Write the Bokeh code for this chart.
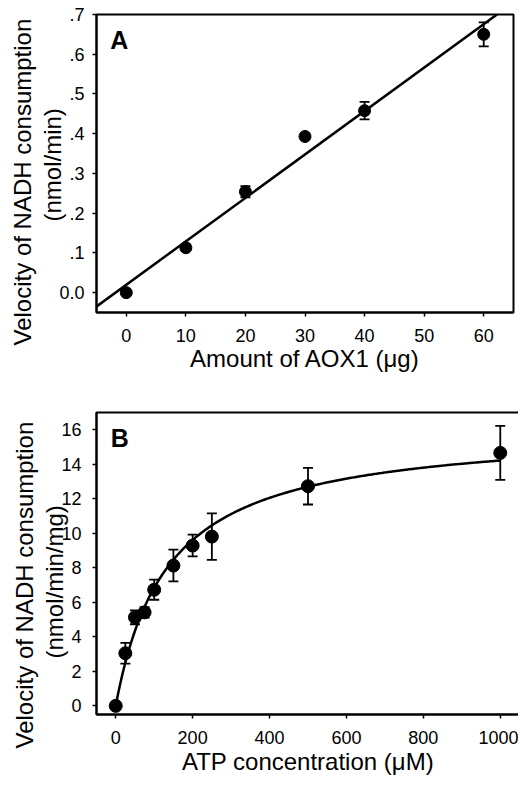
import numpy as np
from bokeh.plotting import figure
from bokeh.layouts import column
from bokeh.models import ColumnDataSource, Whisker, Slope, Label, FixedTicker, TeeHead, Title
from bokeh.embed import file_html
from bokeh.resources import INLINE

# ---- Panel A data ----
aox_amount = [0, 10, 20, 30, 40, 60]
aox_velocity = [0.0, 0.113, 0.254, 0.393, 0.458, 0.650]
aox_error = [0.0, 0.008, 0.014, 0.005, 0.022, 0.030]
aox_fit_slope = 0.01093
aox_fit_intercept = 0.0198
a_yticks = [0.0, 0.1, 0.2, 0.3, 0.4, 0.5, 0.6, 0.7]
a_ytick_labels = ["0.0", ".1", ".2", ".3", ".4", ".5", ".6", ".7"]
a_xticks = [0, 10, 20, 30, 40, 50, 60]

# ---- Panel B data ----
atp_conc = [0, 25, 50, 75, 100, 150, 200, 250, 500, 1000]
atp_velocity = [0.0, 3.05, 5.13, 5.42, 6.73, 8.13, 9.29, 9.81, 12.73, 14.66]
atp_error = [0.0, 0.60, 0.40, 0.30, 0.58, 0.92, 0.63, 1.35, 1.06, 1.56]
mm_vmax = 16.15
mm_km = 136.0
b_yticks = [0, 2, 4, 6, 8, 10, 12, 14, 16]
b_xticks = [0, 200, 400, 600, 800, 1000]

FONT = "Liberation Sans"


def style(p):
    p.toolbar_location = None
    p.grid.visible = False
    p.outline_line_color = "black"
    p.outline_line_width = 2
    p.background_fill_color = "white"
    p.border_fill_color = "white"
    for ax in (p.xaxis[0], p.yaxis[0]):
        ax.axis_line_width = 2
        ax.axis_line_color = "black"
        ax.major_tick_line_width = 1.5
        ax.major_tick_line_color = "black"
        ax.major_tick_in = 0
        ax.major_tick_out = 4
        ax.minor_tick_line_color = None
        ax.major_label_text_font = FONT
        ax.major_label_text_font_size = "18px"
        ax.major_label_text_color = "black"
        ax.axis_label_text_font = FONT
        ax.axis_label_text_font_size = "24px"
        ax.axis_label_text_font_style = "normal"
        ax.axis_label_text_color = "black"


def side_title(p, text, offset, standoff, valign):
    p.add_layout(Title(text=text, align="left", offset=offset, standoff=standoff,
                       vertical_align=valign, text_font=FONT, text_font_size="24px",
                       text_font_style="normal", text_color="black"), "left")


# ---- Panel A ----
pA = figure(frame_width=417, frame_height=298, x_range=(-5, 65), y_range=(-0.05, 0.7),
            min_border_left=92, min_border_top=14, min_border_right=3, min_border_bottom=80,
            output_backend="svg", toolbar_location=None)
style(pA)
pA.xaxis[0].ticker = FixedTicker(ticks=a_xticks)
pA.yaxis[0].ticker = FixedTicker(ticks=a_yticks)
pA.yaxis[0].major_label_overrides = {t: l for t, l in zip(a_yticks, a_ytick_labels)}
pA.xaxis[0].axis_label = "Amount of AOX1 (\u03bcg)"
pA.xaxis[0].major_label_standoff = 12
pA.xaxis[0].axis_label_standoff = 0
pA.yaxis[0].major_label_standoff = 8
side_title(pA, "(nmol/min)", 91, -18, "bottom")
side_title(pA, "Velocity of NADH consumption", -33, 16, "top")

srcA = ColumnDataSource(dict(x=aox_amount, y=aox_velocity,
                             lo=[v - e for v, e in zip(aox_velocity, aox_error)],
                             hi=[v + e for v, e in zip(aox_velocity, aox_error)]))
pA.add_layout(Slope(gradient=aox_fit_slope, y_intercept=aox_fit_intercept,
                    line_color="black", line_width=2.5))
pA.add_layout(Whisker(source=srcA, base="x", lower="lo", upper="hi", line_width=1.8,
                      line_color="black",
                      upper_head=TeeHead(size=10, line_width=1.8, line_color="black"),
                      lower_head=TeeHead(size=10, line_width=1.8, line_color="black")))
pA.scatter("x", "y", source=srcA, size=12, color="black")
pA.add_layout(Label(x=-2.7, y=0.672, text="A", text_font=FONT, text_font_style="bold",
                    text_font_size="25px", text_baseline="top", text_align="left",
                    text_color="black"))

# ---- Panel B ----
pB = figure(frame_width=423, frame_height=302, x_range=(-50, 1050), y_range=(-0.5, 17),
            min_border_left=88, min_border_top=20, min_border_right=1, min_border_bottom=56,
            output_backend="svg", toolbar_location=None)
style(pB)
pB.xaxis[0].ticker = FixedTicker(ticks=b_xticks)
pB.yaxis[0].ticker = FixedTicker(ticks=b_yticks)
pB.xaxis[0].axis_label = "ATP concentration (\u03bcM)"
pB.xaxis[0].major_label_standoff = 12
pB.xaxis[0].axis_label_standoff = 1
pB.yaxis[0].major_label_standoff = 11
side_title(pB, "(nmol/min/mg)", 56, -18, "bottom")
side_title(pB, "Velocity of NADH consumption", -34, 16, "top")

s = np.linspace(0, max(atp_conc), 300)
pB.line(s, mm_vmax * s / (mm_km + s), line_color="black", line_width=2.5)
srcB = ColumnDataSource(dict(x=atp_conc, y=atp_velocity,
                             lo=[v - e for v, e in zip(atp_velocity, atp_error)],
                             hi=[v + e for v, e in zip(atp_velocity, atp_error)]))
pB.add_layout(Whisker(source=srcB, base="x", lower="lo", upper="hi", line_width=1.8,
                      line_color="black",
                      upper_head=TeeHead(size=10, line_width=1.8, line_color="black"),
                      lower_head=TeeHead(size=10, line_width=1.8, line_color="black")))
pB.scatter("x", "y", source=srcB, size=13, color="black")
pB.add_layout(Label(x=-13, y=16.36, text="B", text_font=FONT, text_font_style="bold",
                    text_font_size="25px", text_baseline="top", text_align="left",
                    text_color="black"))

layout = column(pA, pB, spacing=0)
open("out.html", "w").write(file_html(layout, INLINE))
